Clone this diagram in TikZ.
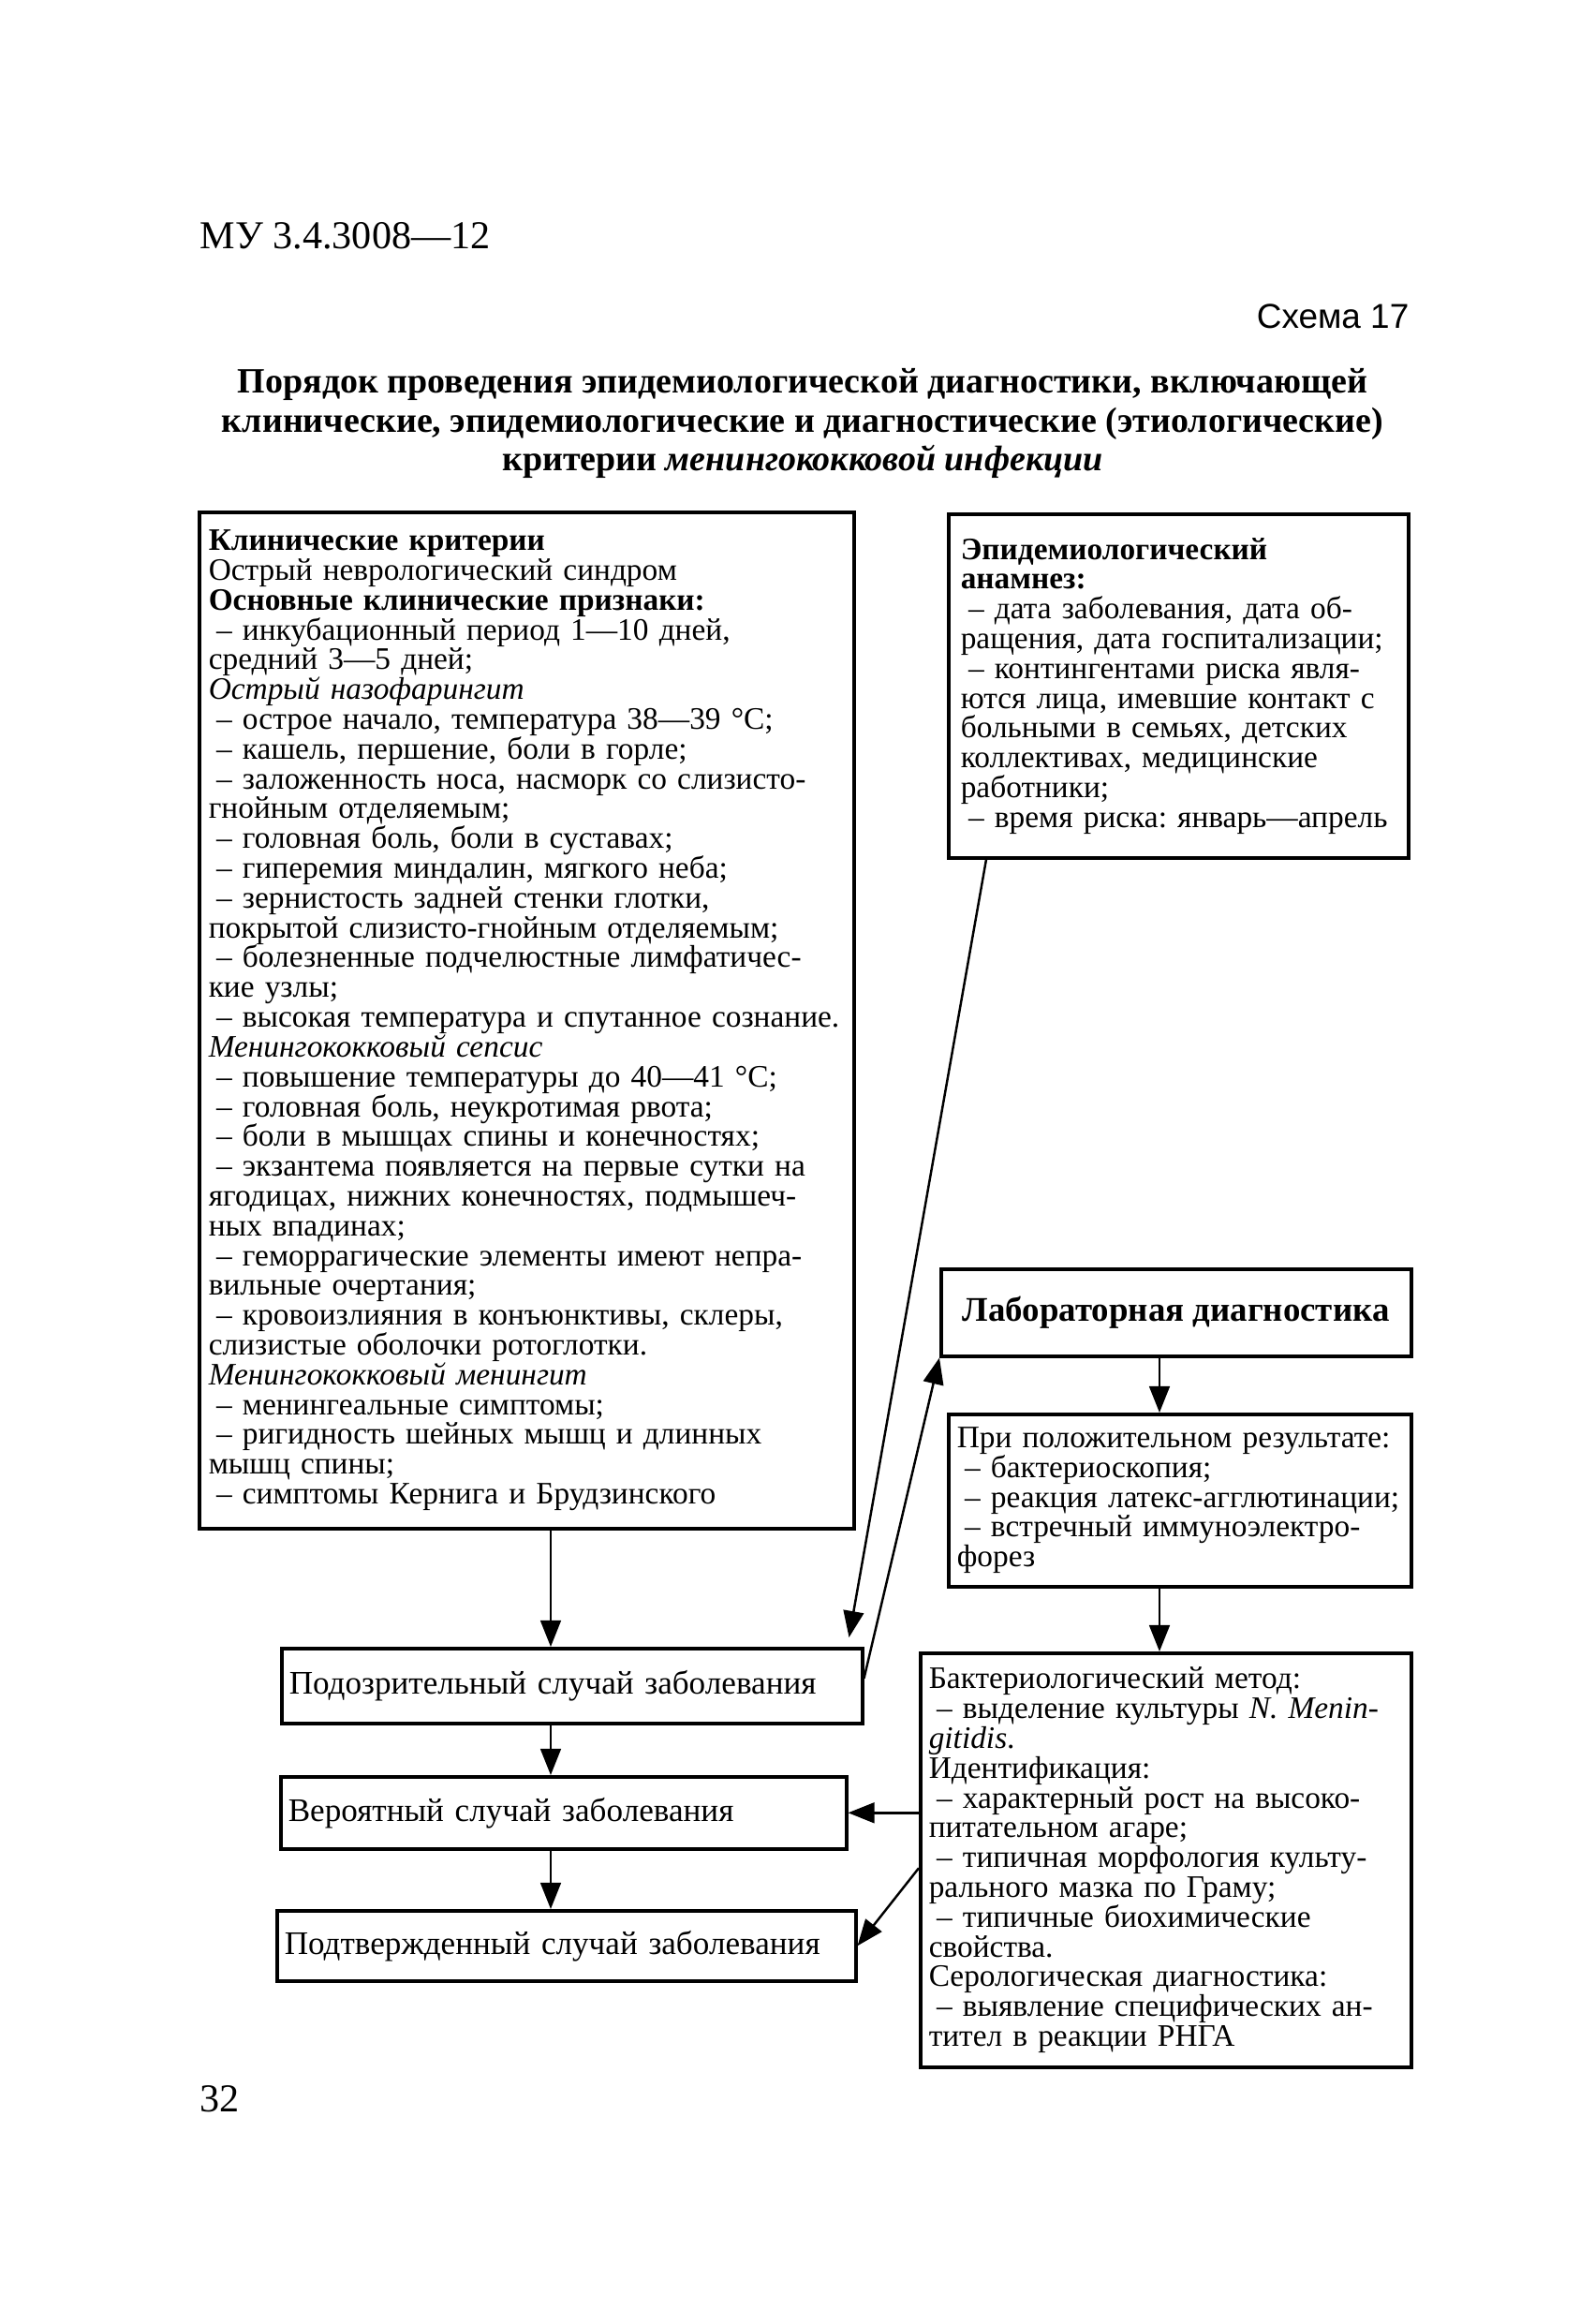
\documentclass[tikz,border=0pt]{standalone}
\usepackage{fontspec}
\setmainfont{Liberation Serif}
\newfontfamily\schemafont{Liberation Sans}
\usetikzlibrary{positioning, arrows.meta, calc}
\newcommand{\dl}{\hspace*{0.25em}–\ }
\frenchspacing

\begin{document}
\begin{tikzpicture}[every node/.style={inner sep=0pt},
  box/.style={draw, line width=1pt, anchor=north west, align=left, inner xsep=0.09cm, inner ysep=0.12cm, font=\fontsize{9.5}{9.05}\selectfont},
  casebox/.style={box, inner xsep=0.08cm, font=\fontsize{10}{11}\selectfont},
  arr/.style={-{Triangle[length=8pt, width=6.2pt]}, line width=0.7pt}]

  \fill[white] (0,0) rectangle (17.02,-24.81);
  \useasboundingbox (0,0) rectangle (17.02,-24.81);

  % Page header
  \node[anchor=base west, font=\fontsize{12}{14}\selectfont] (code) at (2.13,-2.65) {МУ 3.4.3008—12};
  \node[anchor=base east, font=\schemafont\fontsize{10.5}{12}\selectfont] (scheme) at (15.05,-3.50) {Схема 17};
  \node[align=center, font=\fontsize{10.8}{11.8}\selectfont\bfseries] (title) at (8.57,-4.52)
    {Порядок проведения эпидемиологической диагностики, включающей\\клинические, эпидемиологические и диагностические (этиологические)\\критерии \textit{менингококковой инфекции}};

  % Criteria boxes
  \node[box, inner xsep=0.1cm, inner ysep=0.1cm, text width=6.79cm, minimum height=10.85cm] (clin) at (2.11,-5.45) {\textbf{Клинические критерии}\\
    Острый неврологический синдром\\
    \textbf{Основные клинические признаки:}\\
    \dl инкубационный период 1—10 дней,\\
    средний 3—5 дней;\\
    \textit{Острый назофарингит}\\
    \dl острое начало, температура 38—39 °C;\\
    \dl кашель, першение, боли в горле;\\
    \dl заложенность носа, насморк со слизисто-\\
    гнойным отделяемым;\\
    \dl головная боль, боли в суставах;\\
    \dl гиперемия миндалин, мягкого неба;\\
    \dl зернистость задней стенки глотки,\\
    покрытой слизисто-гнойным отделяемым;\\
    \dl болезненные подчелюстные лимфатичес-\\
    кие узлы;\\
    \dl высокая температура и спутанное сознание.\\
    \textit{Менингококковый сепсис}\\
    \dl повышение температуры до 40—41 °C;\\
    \dl головная боль, неукротимая рвота;\\
    \dl боли в мышцах спины и конечностях;\\
    \dl экзантема появляется на первые сутки на\\
    ягодицах, нижних конечностях, подмышеч-\\
    ных впадинах;\\
    \dl геморрагические элементы имеют непра-\\
    вильные очертания;\\
    \dl кровоизлияния в конъюнктивы, склеры,\\
    слизистые оболочки ротоглотки.\\
    \textit{Менингококковый менингит}\\
    \dl менингеальные симптомы;\\
    \dl ригидность шейных мышц и длинных\\
    мышц спины;\\
    \dl симптомы Кернига и Брудзинского};
  \node[box, inner xsep=0.13cm, text width=4.65cm, minimum height=3.67cm] (epid) at (10.11,-5.47) {\textbf{Эпидемиологический}\\
    \textbf{анамнез:}\\
    \dl дата заболевания, дата об-\\
    ращения, дата госпитализации;\\
    \dl контингентами риска явля-\\
    ются лица, имевшие контакт с\\
    больными в семьях, детских\\
    коллективах, медицинские\\
    работники;\\
    \dl время риска: январь—апрель};

  % Laboratory column
  \node[draw, line width=1pt, anchor=north west, align=center, minimum width=5.02cm, minimum height=0.93cm, font=\fontsize{10.5}{12}\selectfont\bfseries] (lab) at (10.03,-13.53) {Лабораторная диагностика};
  \node[box, text width=4.76cm, minimum height=1.84cm] (pos) at (10.11,-15.08) {При положительном результате:\\
    \dl бактериоскопия;\\
    \dl реакция латекс-агглютинации;\\
    \dl встречный иммуноэлектро-\\
    форез};
  \node[box, text width=5.06cm, minimum height=4.42cm] (bact) at (9.81,-17.63) {Бактериологический метод:\\
    \dl выделение культуры \textit{N. Menin-}\\
    \textit{gitidis}.\\
    Идентификация:\\
    \dl характерный рост на высоко-\\
    питательном агаре;\\
    \dl типичная морфология культу-\\
    рального мазка по Граму;\\
    \dl типичные биохимические\\
    свойства.\\
    Серологическая диагностика:\\
    \dl выявление специфических ан-\\
    тител в реакции РНГА};

  % Case definitions
  \node[casebox, text width=6.04cm, minimum height=0.80cm] (susp) at (2.99,-17.58) {Подозрительный случай заболевания};
  \node[casebox, text width=5.88cm, minimum height=0.77cm] (prob) at (2.98,-18.95) {Вероятный случай заболевания};
  \node[casebox, text width=6.02cm, minimum height=0.75cm] (conf) at (2.94,-20.38) {Подтвержденный случай заболевания};

  \node[anchor=base west, font=\fontsize{12}{14}\selectfont] (page) at (2.13,-22.54) {32};

  % Arrows
  \coordinate (leftaxis) at (5.88,0);
  \coordinate (rightaxis) at (12.38,0);
  \draw[arr] (clin.south -| leftaxis) -- (susp.north -| leftaxis);
  \draw[arr] (susp.south -| leftaxis) -- (prob.north -| leftaxis);
  \draw[arr] (prob.south -| leftaxis) -- (conf.north -| leftaxis);
  \draw[arr] ($(epid.south west)+(0.42,0)$) -- ($(susp.north east)+(-0.16,0.10)$);
  \draw[arr] ($(susp.east)+(0,0.08)$) -- (lab.south west);
  \draw[arr] (lab.south -| rightaxis) -- (pos.north -| rightaxis);
  \draw[arr] (pos.south -| rightaxis) -- (bact.north -| rightaxis);
  \draw[arr] (bact.west |- prob.east) -- (prob.east);
  \draw[arr] ($(bact.west |- prob.east)+(0,-0.59)$) -- (conf.east);
\end{tikzpicture}
\end{document}
